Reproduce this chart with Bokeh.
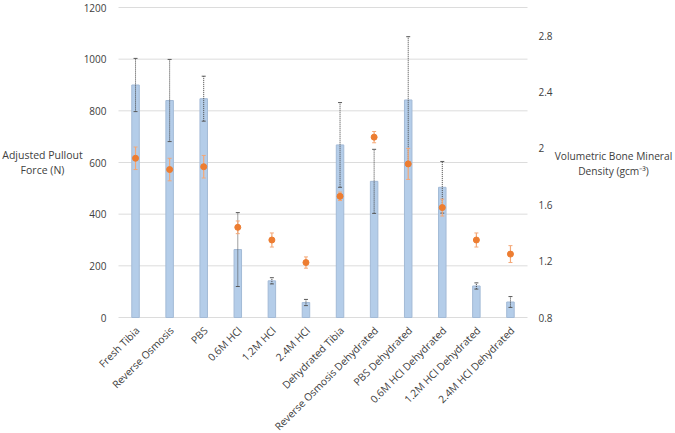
from bokeh.plotting import figure
from bokeh.models import (ColumnDataSource, Range1d, LinearAxis, Whisker, TeeHead,
                          FixedTicker, CustomJSTickFormatter, Label)
from bokeh.core.properties import value
from bokeh.embed import file_html
from bokeh.resources import INLINE
from math import pi

categories = ["Fresh Tibia", "Reverse Osmosis", "PBS", "0.6M HCl", "1.2M HCl", "2.4M HCl",
              "Dehydrated Tibia", "Reverse Osmosis Dehydrated", "PBS Dehydrated",
              "0.6M HCl Dehydrated", "1.2M HCl Dehydrated", "2.4M HCl Dehydrated"]
force = [900, 840, 847, 263, 142, 58, 668, 527, 842, 504, 122, 60]
force_err = [103, 159, 87, 143, 12, 12, 164, 124, 245, 100, 12, 21]
density = [1.93, 1.85, 1.87, 1.44, 1.35, 1.19, 1.66, 2.08, 1.89, 1.58, 1.35, 1.25]
density_err = [0.08, 0.08, 0.08, 0.045, 0.05, 0.04, 0.03, 0.04, 0.11, 0.06, 0.05, 0.06]
left_ticks = [0, 200, 400, 600, 800, 1000, 1200]
right_ticks = [0.8, 1.2, 1.6, 2.0, 2.4, 2.8]
left_min, left_max = 0, 1200
right_min, right_max = 0.8, 3.0
left_title = "Adjusted Pullout\nForce (N)"
right_title = "Volumetric Bone Mineral\nDensity (gcm\u207b\u00b3)"

n = len(categories)
xs = list(range(n))
src = ColumnDataSource(dict(
    x=xs, cat=categories, force=force,
    f_up=[v + e for v, e in zip(force, force_err)],
    f_lo=[v - e for v, e in zip(force, force_err)],
    dens=density,
    d_up=[v + e for v, e in zip(density, density_err)],
    d_lo=[v - e for v, e in zip(density, density_err)],
))

FONT = "Open Sans"
TXT = "#404040"

# layout in canvas pixels (plot frame covers the whole canvas)
FIG_W, FIG_H = 675, 433
PLOT_LEFT, PLOT_RIGHT = 118, 527
TOP_PX, ZERO_PX = 7, 317
cw = (PLOT_RIGHT - PLOT_LEFT) / n
x_start = xs[0] - 0.5 - PLOT_LEFT / cw
x_end = xs[-1] + 0.5 + (FIG_W - PLOT_RIGHT) / cw
upp = (left_max - left_min) / (ZERO_PX - TOP_PX)
y_start = left_min - (FIG_H - ZERO_PX) * upp
y_end = left_max + TOP_PX * upp
k = (right_max - right_min) / (left_max - left_min)
r_start = right_min + (y_start - left_min) * k
r_end = right_min + (y_end - left_min) * k

p = figure(width=FIG_W, height=FIG_H, output_backend="svg", toolbar_location=None,
           x_range=Range1d(x_start, x_end), y_range=Range1d(y_start, y_end),
           x_axis_location=None, min_border=0)
p.extra_y_ranges = {"right": Range1d(r_start, r_end)}
p.outline_line_color = None
p.background_fill_color = "white"
p.border_fill_color = "white"
p.xgrid.visible = False
p.ygrid.visible = False

lax = p.yaxis[0]
lax.ticker = FixedTicker(ticks=left_ticks)
lax.major_label_standoff = -(PLOT_LEFT - 12)
rax = LinearAxis(y_range_name="right", ticker=FixedTicker(ticks=right_ticks),
                 formatter=CustomJSTickFormatter(code="return tick.toFixed(1).replace(/\\.0$/, '');"))
rax.major_label_standoff = -(FIG_W - PLOT_RIGHT - 11)
p.add_layout(rax, "right")
for ax in (lax, rax):
    ax.axis_line_color = None
    ax.major_tick_line_color = None
    ax.minor_tick_line_color = None
    ax.major_tick_out = 0
    ax.major_tick_in = 0
    ax.minor_tick_out = 0
    ax.minor_tick_in = 0
    ax.major_label_text_font = FONT
    ax.major_label_text_font_size = "10px"
    ax.major_label_text_color = TXT

# horizontal gridlines spanning the category area
p.segment(x0=xs[0] - 0.5, x1=xs[-1] + 0.5, y0=left_ticks, y1=left_ticks,
          line_color="#dcdcdc", line_width=1)

p.vbar(x="x", top="force", width=0.22, bottom=0, source=src,
       fill_color="#b4cde9", line_color="#a3bad6", line_width=1)

w1 = Whisker(source=src, base="x", upper="f_up", lower="f_lo", dimension="height",
             line_color="#404040", line_dash="1 1", line_width=1, level="annotation",
             upper_head=TeeHead(size=4, line_color="#595959", line_width=1),
             lower_head=TeeHead(size=4, line_color="#595959", line_width=1))
p.add_layout(w1)

w2 = Whisker(source=src, base="x", upper="d_up", lower="d_lo", dimension="height",
             y_range_name="right", line_color="#f4a877", line_width=1.2, level="annotation",
             upper_head=TeeHead(size=4, line_color="#f4a877", line_width=1),
             lower_head=TeeHead(size=4, line_color="#f4a877", line_width=1))
p.add_layout(w2)

pts = p.scatter(x="x", y="dens", source=src, y_range_name="right", marker="circle",
                size=6, fill_color="#ed7d31", line_color="#ed7d31")
pts.level = "overlay"

# category labels along the bottom
p.text(x="x", y=left_min, text="cat", source=src, angle=pi / 4,
       text_align="right", text_baseline="middle", x_offset=2, y_offset=11,
       text_font=value(FONT), text_font_size="10.3px", text_color=TXT)

p.add_layout(Label(x=42, y=FIG_H - 162, x_units="screen", y_units="screen",
                   text=left_title, text_align="center", text_baseline="middle",
                   text_font=FONT, text_font_size="10.5px", text_color=TXT,
                   text_line_height=1.03))
p.add_layout(Label(x=613, y=FIG_H - 163, x_units="screen", y_units="screen",
                   text=right_title, text_align="center", text_baseline="middle",
                   text_font=FONT, text_font_size="10.2px", text_color=TXT,
                   text_line_height=1.03))

open("out.html", "w").write(file_html(p, INLINE))
